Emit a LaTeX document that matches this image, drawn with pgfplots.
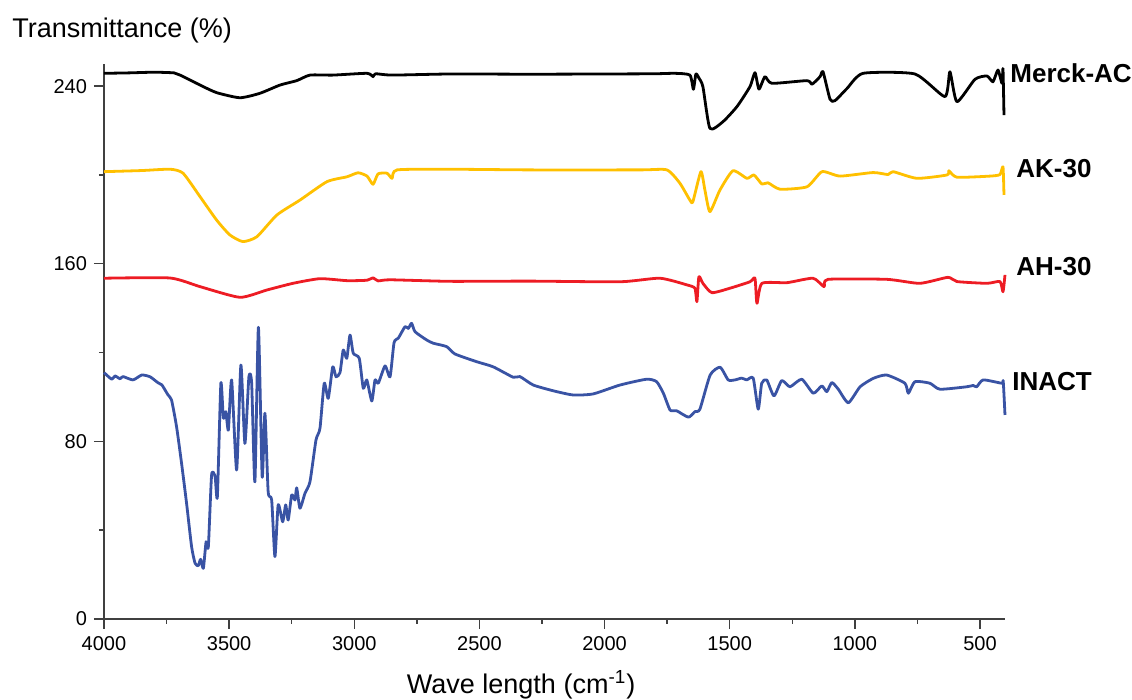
\documentclass[border=0pt]{standalone}
\usepackage{fontspec}
\setmainfont{Liberation Sans}
\usepackage{pgfplots}
\pgfplotsset{compat=1.18}
\definecolor{cblack}{RGB}{0,0,0}
\definecolor{cyellow}{RGB}{255,192,0}
\definecolor{cred}{RGB}{237,28,36}
\definecolor{cblue}{RGB}{57,83,164}
\begin{document}
\begin{tikzpicture}
\path[use as bounding box] (0,0) rectangle (566pt,350pt);
\begin{axis}[
  at={(52pt,40.5pt)}, anchor=south west,
  scale only axis, width=450.5pt, height=277.5pt,
  x dir=reverse, xmin=400, xmax=4000, ymin=0, ymax=250,
  axis x line*=bottom, axis y line*=left,
  axis line style={line width=0.7pt, color=black!75},
  xtick={500,1000,1500,2000,2500,3000,3500,4000},
  minor xtick={750,1250,1750,2250,2750,3250,3750},
  ytick={0,80,160,240}, minor ytick={40,120,200},
  tick align=outside, major tick length=5pt, minor tick length=2.5pt,
  tick style={line width=0.7pt, color=black!75},
  /pgf/number format/assume math mode=true,
  /pgf/number format/1000 sep={},
  ticklabel style={font=\fontsize{10}{12}\selectfont},
  xlabel={Wave length (cm\textsuperscript{-1})},
  ylabel={Transmittance (\%)},
  every axis x label/.style={at={(rel axis cs:0.463,0)}, anchor=base, yshift=-37.5pt, font=\fontsize{13.5}{16}\selectfont},
  every axis y label/.style={at={(rel axis cs:0,1)}, anchor=west, inner sep=0pt, xshift=-46pt, yshift=16.5pt, font=\fontsize{13.5}{16}\selectfont},
  clip=false,
  every axis plot/.append style={line width=1.4pt, line join=round, smooth, tension=0.35},
]
\addplot[cblack] coordinates {(4000,245.8)(3900,246.0)(3800,246.3)(3720,246.0)(3696,245.0)(3616,240.5)(3550,237.1)(3457,234.8)(3377,236.8)(3297,240.5)(3230,242.5)(3177,245.0)(3085,245.0)(2949,245.8)(2925,244.3)(2915,245.6)(2849,245.0)(2618,245.5)(2300,245.4)(2000,245.5)(1800,245.6)(1719,245.8)(1659,245.0)(1645,238.6)(1635,245.5)(1623,243.7)(1607,239.8)(1579,221.0)(1527,224.0)(1471,230.8)(1419,239.8)(1399,246.1)(1383,238.7)(1359,244.3)(1331,241.3)(1191,242.5)(1171,240.9)(1139,244.3)(1127,246.5)(1099,234.1)(1079,233.5)(1031,239)(967,245.8)(760,245.5)(640,235.3)(620,246.5)(592,233.0)(520,243.1)(472,244.6)(448,242.0)(428,247.3)(412,241.3)(408,247.8)(404,227)};
\addplot[cyellow] coordinates {(4000,201.5)(3850,202.0)(3736,202.6)(3684,200.8)(3616,190.2)(3550,179.7)(3497,173)(3445,170)(3389,172.2)(3309,182)(3217,188.7)(3109,197)(3029,199.2)(2985,201)(2949,199.5)(2925,195.8)(2905,200.5)(2869,200.8)(2849,198.5)(2829,202.3)(2618,202.6)(2300,202.3)(1859,202.3)(1751,202.3)(1699,196.3)(1659,188.7)(1647,188)(1615,201.5)(1599,193.2)(1579,183.5)(1539,193.2)(1487,201.9)(1431,198.5)(1403,200)(1371,195.9)(1347,196.5)(1299,193.6)(1191,194.7)(1131,201.5)(1059,199.5)(927,201.1)(867,200.2)(847,201.5)(752,198.5)(632,200)(624,201.9)(592,199)(460,199.5)(420,200.2)(408,203.7)(404,191)};
\addplot[cred] coordinates {(4000,153.5)(3736,153.6)(3616,149.7)(3457,144.9)(3349,148.2)(3245,151.2)(3137,153.3)(3029,152.4)(2949,152.6)(2925,153.7)(2905,152.3)(2857,152.8)(2618,152.1)(2300,152.2)(1938,151.9)(1779,153.5)(1671,150.5)(1639,149)(1631,142.9)(1623,154.2)(1607,151.2)(1571,147)(1499,149)(1419,151.9)(1399,153.5)(1391,142.2)(1371,151.2)(1271,151.5)(1167,153.5)(1123,149.7)(1107,153)(872,153)(740,151.2)(628,153.9)(592,152)(472,151.2)(420,152)(408,147.4)(400,155)};
\addplot[cblue] coordinates {(4000,111.0)(3969,108.0)(3956,109.5)(3936,108.2)(3924,109.2)(3884,107.7)(3849,109.9)(3816,109.1)(3784,106.4)(3769,105.5)(3744,100.9)(3730,98.6)(3710,86.6)(3690,70.1)(3670,52.1)(3650,32.6)(3636,25.1)(3623,24.0)(3614,26.9)(3603,22.8)(3592,34.8)(3583,32.6)(3570,64.9)(3556,64.1)(3547,55.1)(3533,106.2)(3523,90.4)(3513,93.4)(3503,85.1)(3490,107.7)(3470,67.1)(3453,114.4)(3437,79.1)(3421,109.1)(3410,106.2)(3397,61.8)(3383,131.4)(3368,64.1)(3357,92.7)(3344,57.3)(3330,53.6)(3317,28.1)(3304,51.4)(3286,43.8)(3274,51.4)(3264,44.6)(3250,55.9)(3237,53.6)(3230,59.1)(3217,49.9)(3197,56.6)(3177,61.8)(3153,80.6)(3137,85.9)(3120,106.2)(3104,99.4)(3086,113.6)(3073,109.1)(3057,111)(3044,121.2)(3030,117.4)(3017,127.9)(3004,119.7)(2980,117.4)(2964,103.9)(2950,107.7)(2930,98.2)(2917,107.7)(2904,106.2)(2877,114)(2857,109.1)(2841,124.5)(2824,126.5)(2797,131.7)(2784,130.9)(2771,133.2)(2757,129.4)(2711,125.7)(2684,124.2)(2631,122.7)(2598,119.4)(2511,115.9)(2445,113.6)(2365,108.9)(2338,109.2)(2285,105.4)(2205,102.8)(2125,100.9)(2045,101.4)(1938,105.4)(1832,108)(1792,106.9)(1765,101.7)(1738,94.1)(1712,93.8)(1665,90.9)(1639,93.4)(1619,94.5)(1578,109.9)(1538,113.4)(1506,107.7)(1479,107.7)(1452,108.5)(1432,107.7)(1406,108.5)(1386,94.5)(1372,106.2)(1352,107.7)(1323,100.5)(1292,107.4)(1259,104.6)(1212,108)(1166,101.7)(1132,105)(1112,102.4)(1092,106.5)(1066,103.5)(1026,97.4)(979,104.6)(926,108.4)(873,109.9)(800,106.2)(786,101.7)(760,106.9)(700,106.2)(660,103.5)(553,104.6)(527,105.2)(513,104.6)(487,107.7)(413,106.2)(407,107)(400,91.9)};
\node[anchor=west, inner sep=0pt, font=\fontsize{13}{15}\selectfont\bfseries] at (axis cs:380,245.9) {Merck-AC};
\node[anchor=west, inner sep=0pt, font=\fontsize{13}{15}\selectfont\bfseries] at (axis cs:356,202.7) {AK-30};
\node[anchor=west, inner sep=0pt, font=\fontsize{13}{15}\selectfont\bfseries] at (axis cs:356,158.7) {AH-30};
\node[anchor=west, inner sep=0pt, font=\fontsize{13}{15}\selectfont\bfseries] at (axis cs:372,106.9) {INACT};
\end{axis}
\end{tikzpicture}
\end{document}
